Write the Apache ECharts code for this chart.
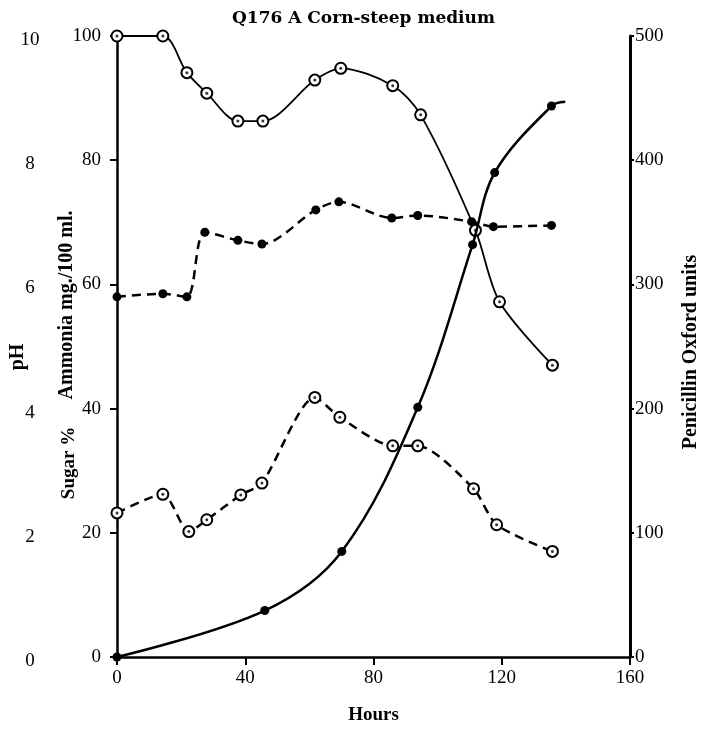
<!DOCTYPE html>
<html lang="en">
  <head>
    <meta charset="UTF-8" />
    <title>Q176 A Corn-steep medium</title>
    <script src="https://cdn.jsdelivr.net/npm/echarts@6/dist/echarts.min.js"></script>
    <style>
      html, body { margin: 0; padding: 0; background: #fff; }
      #main { width: 702px; height: 730px; }
    </style>
  </head>
  <body>
    <div id="main"></div>
    <script>
      // upper curve, open circles, solid line (left 0-100 scale)
      var upperHours = [0, 14.3, 21.8, 28, 37.7, 45.5, 61.7, 69.8, 86, 94.7, 111.8, 119.3, 135.8];
      var upperValues = [100, 100, 94.1, 90.8, 86.3, 86.3, 92.9, 94.8, 92, 87.3, 68.7, 57.2, 47];

      // ammonia, filled dots, dashed
      var ammoniaHours = [0, 14.3, 21.8, 27.4, 37.7, 45.2, 62, 69.2, 85.7, 93.8, 110.6, 117.4, 135.5];
      var ammoniaValues = [58, 58.5, 58, 68.4, 67.1, 66.5, 72, 73.3, 70.7, 71.1, 70.1, 69.3, 69.5];

      // sugar, open circles, dashed
      var sugarHours = [0, 14.3, 22.4, 28, 38.6, 45.2, 61.7, 69.5, 86, 93.8, 111.2, 118.4, 135.8];
      var sugarValues = [23.2, 26.2, 20.2, 22.1, 26.1, 28, 41.8, 38.6, 34, 34, 27.1, 21.3, 17];

      // penicillin, filled dots, solid (right axis); last point is the curve end, no marker
      var penHours = [0, 46.1, 70.1, 93.8, 110.9, 117.8, 135.5, 139.8];
      var penValues = [0, 37.4, 85, 201, 332, 390, 443.6, 447];
      var penMarked = [true, true, true, true, true, true, true, false];

      var xTicks = [0, 40, 80, 120, 160];
      var phTicks = [0, 2, 4, 6, 8, 10];

      function pairs(xs, ys) {
        return xs.map(function (x, i) { return [x, ys[i]]; });
      }

      var serif = "Liberation Serif";
      var chart = echarts.init(document.getElementById("main"));

      var openSymbol = {
        symbol: "circle",
        symbolSize: 11,
        itemStyle: { color: "#fff", borderColor: "#000", borderWidth: 2 },
      };

      var option = {
        animation: false,
        backgroundColor: "#fff",
        grid: { left: 117, right: 72, top: 36, bottom: 65 },
        xAxis: {
          type: "value",
          min: 0,
          max: 160,
          interval: 40,
          name: "Hours",
          nameLocation: "middle",
          nameGap: 49,
          nameTextStyle: { fontFamily: serif, fontWeight: "bold", fontSize: 19, color: "#000" },
          axisLine: { lineStyle: { color: "#000", width: 2.5 } },
          axisTick: { length: 8, lineStyle: { color: "#000", width: 2 } },
          axisLabel: {
            margin: 12,
            fontFamily: serif,
            fontSize: 19,
            color: "#000",
            formatter: function (v) { return xTicks.indexOf(v) >= 0 ? String(v) : ""; },
          },
          splitLine: { show: false },
        },
        yAxis: [
          {
            type: "value",
            position: "left",
            min: 0,
            max: 100,
            interval: 20,
            axisLine: { show: true, lineStyle: { color: "#000", width: 2.5 } },
            axisTick: { show: true, length: 7, lineStyle: { color: "#000", width: 2 } },
            axisLabel: { margin: 16, fontFamily: serif, fontSize: 19, color: "#000" },
            splitLine: { show: false },
          },
          {
            type: "value",
            position: "right",
            min: 0,
            max: 500,
            interval: 100,
            axisLine: { show: true, lineStyle: { color: "#000", width: 3 } },
            axisTick: { show: true, length: 4, lineStyle: { color: "#000", width: 2 } },
            axisLabel: { margin: 5, fontFamily: serif, fontSize: 19, color: "#000" },
            splitLine: { show: false },
          },
          {
            type: "value",
            position: "left",
            offset: 80,
            min: 0,
            max: 10,
            interval: 2,
            axisLine: { show: false },
            axisTick: { show: false },
            axisLabel: {
              margin: 7,
              align: "center",
              verticalAlign: "top",
              lineHeight: 8,
              fontFamily: serif,
              fontSize: 19,
              color: "#000",
              formatter: function (v) { return phTicks.indexOf(v) >= 0 ? String(v) : ""; },
            },
            splitLine: { show: false },
          },
        ],
        graphic: [
          {
            type: "text",
            left: 372 - 140,
            top: 10,
            style: { text: "Q176 A Corn-steep medium", fontFamily: "DejaVu Serif", fontWeight: "bold", fontSize: 17, fill: "#000", width: 280, align: "center" },
          },
          {
            type: "text",
            x: 18, y: 357, rotation: Math.PI / 2,
            style: { text: "pH", fontFamily: serif, fontWeight: "bold", fontSize: 20, fill: "#000", align: "center", verticalAlign: "middle" },
          },
          {
            type: "text",
            x: 67, y: 305, rotation: Math.PI / 2,
            style: { text: "Ammonia mg./100 ml.", fontFamily: serif, fontWeight: "bold", fontSize: 20, fill: "#000", align: "center", verticalAlign: "middle" },
          },
          {
            type: "text",
            x: 69, y: 463, rotation: Math.PI / 2,
            style: { text: "Sugar %", fontFamily: serif, fontWeight: "bold", fontSize: 19, fill: "#000", align: "center", verticalAlign: "middle" },
          },
          {
            type: "text",
            x: 691, y: 352, rotation: Math.PI / 2,
            style: { text: "Penicillin Oxford units", fontFamily: serif, fontWeight: "bold", fontSize: 20, fill: "#000", align: "center", verticalAlign: "middle" },
          },
        ],
        series: [
          Object.assign({
            name: "upper",
            type: "line",
            yAxisIndex: 0,
            smooth: 0.3,
            data: pairs(upperHours, upperValues),
            lineStyle: { color: "#000", width: 1.8 },
            z: 3,
          }, openSymbol),
          {
            name: "ammonia",
            type: "line",
            yAxisIndex: 0,
            smooth: 0.3,
            data: pairs(ammoniaHours, ammoniaValues),
            symbol: "circle",
            symbolSize: 9,
            itemStyle: { color: "#000" },
            lineStyle: { color: "#000", width: 2.5, type: [9, 6] },
            z: 3,
          },
          Object.assign({
            name: "sugar",
            type: "line",
            yAxisIndex: 0,
            smooth: 0.25,
            data: pairs(sugarHours, sugarValues),
            lineStyle: { color: "#000", width: 2.5, type: [9, 6] },
            z: 3,
          }, openSymbol),
          {
            name: "penicillin",
            type: "line",
            yAxisIndex: 1,
            smooth: 0.35,
            data: penHours.map(function (h, i) {
              return { value: [h, penValues[i]], symbol: penMarked[i] ? "circle" : "none" };
            }),
            symbolSize: 9,
            itemStyle: { color: "#000" },
            lineStyle: { color: "#000", width: 2.5 },
            z: 4,
          },
          {
            name: "upper dots",
            type: "scatter",
            yAxisIndex: 0,
            data: pairs(upperHours, upperValues),
            symbolSize: 3,
            itemStyle: { color: "#000" },
            z: 6,
          },
          {
            name: "sugar dots",
            type: "scatter",
            yAxisIndex: 0,
            data: pairs(sugarHours, sugarValues),
            symbolSize: 3,
            itemStyle: { color: "#000" },
            z: 6,
          },
        ],
      };
      option && chart.setOption(option);
    </script>
  </body>
</html>
